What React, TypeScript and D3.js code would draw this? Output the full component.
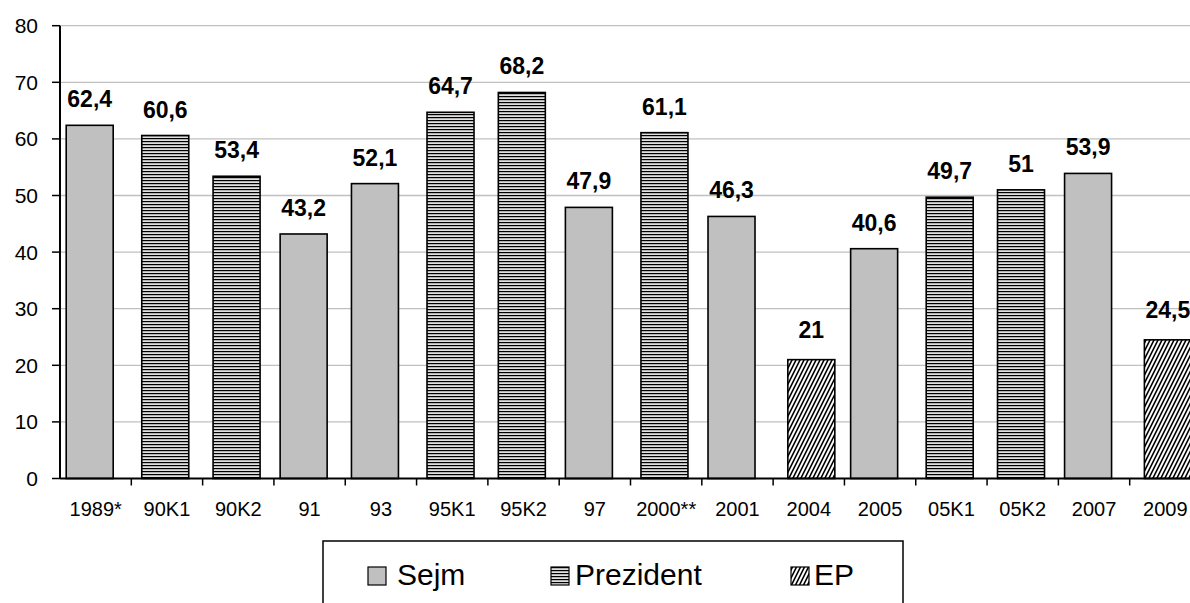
import React, { useEffect, useRef } from 'react';
import * as d3 from 'd3';

// election turnout data
const categories = ['1989*', '90K1', '90K2', '91', '93', '95K1', '95K2', '97', '2000**', '2001', '2004', '2005', '05K1', '05K2', '2007', '2009'];
const values = [62.4, 60.6, 53.4, 43.2, 52.1, 64.7, 68.2, 47.9, 61.1, 46.3, 21, 40.6, 49.7, 51, 53.9, 24.5];
const seriesOf = ['Sejm', 'Prezident', 'Prezident', 'Sejm', 'Sejm', 'Prezident', 'Prezident', 'Sejm', 'Prezident', 'Sejm', 'EP', 'Sejm', 'Prezident', 'Prezident', 'Sejm', 'EP'];
const seriesNames = ['Sejm', 'Prezident', 'EP'];
const yTicks = [0, 10, 20, 30, 40, 50, 60, 70, 80];

const W = 1190;
const H = 603;
const FONT = '"Liberation Sans", Arial, sans-serif';

const App = () => {
    const svgRef = useRef<SVGSVGElement>(null);

    useEffect(() => {
        const svg = d3.select(svgRef.current);
        svg.selectAll('*').remove();
        svg.attr('width', W).attr('height', H);

        // patterns
        const defs = svg.append('defs');
        const ph = defs.append('pattern')
            .attr('id', 'pat-prez')
            .attr('patternUnits', 'userSpaceOnUse')
            .attr('width', 6).attr('height', 3);
        ph.append('rect').attr('width', 6).attr('height', 3).attr('fill', '#e0e0e0');
        ph.append('rect').attr('y', 0).attr('width', 6).attr('height', 1.2).attr('fill', '#000');

        const pe = defs.append('pattern')
            .attr('id', 'pat-ep')
            .attr('patternUnits', 'userSpaceOnUse')
            .attr('width', 4).attr('height', 8);
        pe.append('rect').attr('width', 4).attr('height', 8).attr('fill', '#fff');
        pe.append('path').attr('d', 'M-1,10 L5,-2 M-5,10 L1,-2 M3,10 L9,-2')
            .attr('stroke', '#000').attr('stroke-width', 1.6);

        const fillOf = (s: string) => s === 'Sejm' ? '#c0c0c0' : s === 'Prezident' ? 'url(#pat-prez)' : 'url(#pat-ep)';

        // scales
        const x = d3.scaleBand()
            .domain(categories)
            .range([60, 1201])
            .paddingInner(0).paddingOuter(0);

        const y = d3.scaleLinear()
            .domain([0, 80])
            .range([478.5, 25.7]);

        const xSeries = d3.scalePoint()
            .domain(seriesNames)
            .range([6.2, 14.7]);
        const barW = 47;

        // gridlines
        svg.append('g')
            .selectAll('line')
            .data(yTicks.filter(t => t > 0))
            .join('line')
            .attr('x1', 60).attr('x2', W)
            .attr('y1', d => y(d)).attr('y2', d => y(d))
            .attr('stroke', '#c0c0c0').attr('stroke-width', 1.3);

        // bars
        const data = categories.map((c, i) => ({ c, v: values[i], s: seriesOf[i] }));
        svg.append('g')
            .selectAll('rect')
            .data(data)
            .join('rect')
            .attr('x', d => (x(d.c) as number) + (xSeries(d.s) as number))
            .attr('y', d => y(d.v))
            .attr('width', barW)
            .attr('height', d => y(0) - y(d.v))
            .attr('fill', d => fillOf(d.s))
            .attr('stroke', '#000')
            .attr('stroke-width', 1.6);

        // value labels
        svg.append('g')
            .selectAll('text')
            .data(data)
            .join('text')
            .attr('x', d => (x(d.c) as number) + (xSeries(d.s) as number) + barW / 2)
            .attr('y', d => y(d.v) - (d.s === 'EP' ? 22 : 18))
            .attr('text-anchor', 'middle')
            .attr('font-family', FONT)
            .attr('font-weight', 'bold')
            .attr('font-size', 23)
            .attr('fill', '#000')
            .text(d => String(d.v).replace('.', ','));

        // y axis
        const yAxis = svg.append('g');
        yAxis.append('line')
            .attr('x1', 60).attr('x2', 60)
            .attr('y1', y(80)).attr('y2', y(0))
            .attr('stroke', '#000').attr('stroke-width', 2);
        yAxis.selectAll('.tick')
            .data(yTicks)
            .join('line')
            .attr('class', 'tick')
            .attr('x1', 52).attr('x2', 60)
            .attr('y1', d => y(d)).attr('y2', d => y(d))
            .attr('stroke', '#000').attr('stroke-width', 1.5);
        yAxis.selectAll('text')
            .data(yTicks)
            .join('text')
            .attr('x', 38)
            .attr('y', d => y(d) + 7.5)
            .attr('text-anchor', 'end')
            .attr('font-family', FONT)
            .attr('font-size', 21)
            .text(d => d);

        // x axis
        const xAxis = svg.append('g');
        xAxis.append('line')
            .attr('x1', 60).attr('x2', W)
            .attr('y1', y(0)).attr('y2', y(0))
            .attr('stroke', '#000').attr('stroke-width', 2);
        xAxis.selectAll('.tick')
            .data(categories.slice(1))
            .join('line')
            .attr('class', 'tick')
            .attr('x1', d => x(d) as number).attr('x2', d => x(d) as number)
            .attr('y1', y(0)).attr('y2', y(0) + 7)
            .attr('stroke', '#000').attr('stroke-width', 1.5);
        xAxis.selectAll('text')
            .data(categories)
            .join('text')
            .attr('x', d => (x(d) as number) + x.bandwidth() / 2)
            .attr('y', 516)
            .attr('text-anchor', 'middle')
            .attr('font-family', FONT)
            .attr('font-size', 20)
            .text(d => d);

        // legend
        const legend = svg.append('g');
        legend.append('rect')
            .attr('x', 323).attr('y', 541)
            .attr('width', 580).attr('height', 90)
            .attr('fill', '#fff')
            .attr('stroke', '#000').attr('stroke-width', 1.5);
        const swatchX = [368, 551, 791];
        const textX = [397, 575, 814];
        seriesNames.forEach((s, i) => {
            legend.append('rect')
                .attr('x', swatchX[i]).attr('y', 567)
                .attr('width', 18).attr('height', 18)
                .attr('fill', fillOf(s))
                .attr('stroke', '#000').attr('stroke-width', 1.2);
            legend.append('text')
                .attr('x', textX[i]).attr('y', 585)
                .attr('font-family', FONT)
                .attr('font-size', 30)
                .text(s);
        });
    }, []);

    return (
        <div style={{ position: 'absolute', left: 0, top: 0 }}>
            <svg ref={svgRef}></svg>
        </div>
    );
};

export default App;
